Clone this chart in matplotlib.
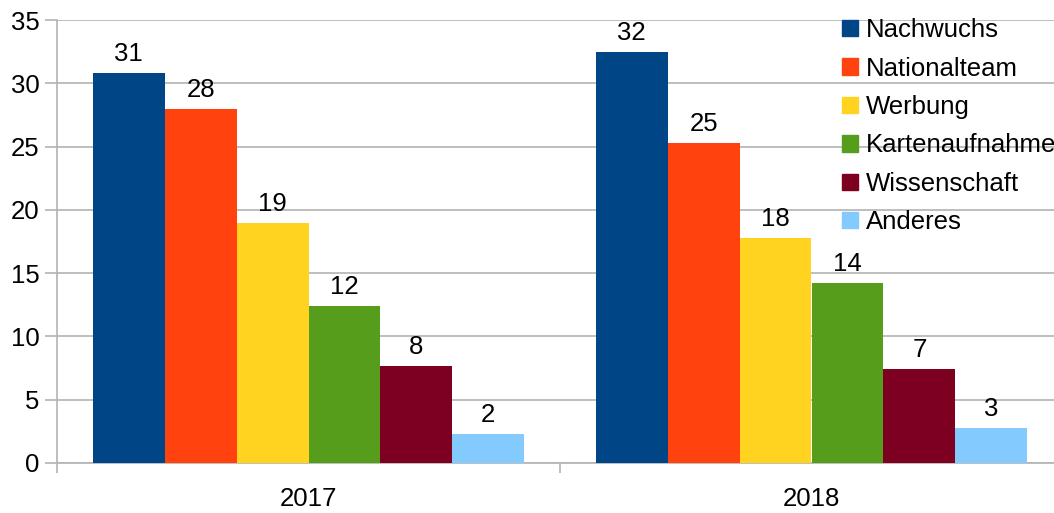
import matplotlib.pyplot as plt
import numpy as np
from matplotlib.patches import Patch

plt.rcParams['font.family'] = ['Liberation Sans', 'DejaVu Sans']

# data
years = ["2017", "2018"]
series = ["Nachwuchs", "Nationalteam", "Werbung", "Kartenaufnahme", "Wissenschaft", "Anderes"]
v2017 = [30.8, 28.0, 19.0, 12.4, 7.7, 2.3]
v2018 = [32.5, 25.3, 17.8, 14.2, 7.4, 2.8]
colors = ["#004586", "#ff420e", "#ffd320", "#579d1c", "#7e0021", "#83caff"]

values = np.array([v2017, v2018])
fs = 18.5

fig = plt.figure(figsize=(10.54, 5.13), dpi=100)
ax = fig.add_axes([57 / 1054, 50 / 513, 1006 / 1054, 443 / 513])

x = np.arange(len(years))
bw = 0.143
n = len(series)
for i, (name, col) in enumerate(zip(series, colors)):
    pos = x + (i - (n - 1) / 2) * bw
    bars = ax.bar(pos, values[:, i], width=bw, color=col, label=name, zorder=3)
    for b, v in zip(bars, values[:, i]):
        ax.annotate(f"{v:.0f}", (b.get_x() + b.get_width() / 2, v),
                    xytext=(0, 5), textcoords="offset points",
                    ha="center", va="bottom", fontsize=fs, color="black")

ax.set_xlim(-0.5, 1.5)
ax.set_ylim(0, 35)
ax.set_yticks(np.arange(0, 36, 5))
ax.grid(axis="y", color="#b3b3b3", linewidth=1.2, zorder=0)

ax.set_xticks(x)
ax.set_xticklabels(years)
ax.set_xticks([-0.5, 0.5, 1.5], minor=True)
ax.tick_params(axis="x", which="major", length=0, pad=17, labelsize=fs)
ax.tick_params(axis="x", which="minor", length=7.2, color="#b3b3b3", width=1.2)
ax.tick_params(axis="y", length=8.6, color="#b3b3b3", width=1.2, pad=4, labelsize=fs)

for s in ["top", "right"]:
    ax.spines[s].set_visible(False)
for s in ["left", "bottom"]:
    ax.spines[s].set_color("#b3b3b3")
    ax.spines[s].set_linewidth(1.2)

handles = [Patch(facecolor=c, edgecolor=c) for c in colors]
leg = fig.legend(handles, series, loc="upper left", bbox_to_anchor=(832 / 1054, 1 - 8 / 513),
                 frameon=False, fontsize=fs, handlelength=0.6, handleheight=0.6,
                 handletextpad=0.31, labelspacing=0.56, borderaxespad=0)

fig.savefig("out.png", dpi=100)
